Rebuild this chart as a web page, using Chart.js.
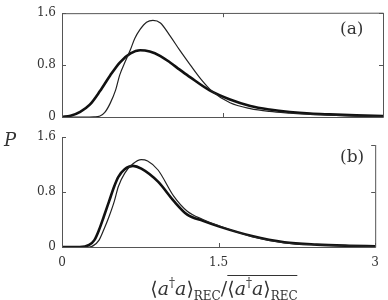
<!DOCTYPE html>
<html>
<head>
<meta charset="utf-8">
<script src="https://cdn.jsdelivr.net/npm/chart.js@4.4.0/dist/chart.umd.min.js"></script>
<style>
  body { margin: 0; background: #fff; overflow: hidden; }
  #wrap { position: relative; width: 388px; height: 300px; font-family: "DejaVu Serif", serif; color: #333; }
  canvas { position: absolute; left: 0; top: 0; }
  .lbl { position: absolute; white-space: nowrap; line-height: 1; }
  #xlabel { left: 224px; top: 275px; transform: translateX(-50%); font-size: 19px; }
  #xlabel sub { font-size: 12px; vertical-align: -5px; }
  #xlabel sup { font-size: 12px; vertical-align: 8px; }
  .ov { display: inline-block; border-top: 1px solid #333; padding-top: 1px; line-height: 1; }
  #plab { left: 4px; top: 131px; font-size: 18px; font-style: italic; }
  #la { left: 340px; top: 20px; font-size: 17px; }
  #lb { left: 340px; top: 148px; font-size: 17px; }
</style>
</head>
<body>
<div id="wrap">
  <canvas id="topChart" width="388" height="300"></canvas>
  <canvas id="bottomChart" width="388" height="300"></canvas>
  <div class="lbl" id="plab">P</div>
  <div class="lbl" id="la">(a)</div>
  <div class="lbl" id="lb">(b)</div>
  <div class="lbl" id="xlabel">⟨<i>a</i><sup>†</sup><i>a</i>⟩<sub>REC</sub>/<span class="ov">⟨<i>a</i><sup>†</sup><i>a</i>⟩<sub>REC</sub></span></div>
</div>
<script>
// tick values
const xTicks = [0, 1.5, 3];
const yTicks = [0, 0.8, 1.6];

// panel (a)
const xTopThick = [0, 0.08, 0.17, 0.26, 0.355, 0.45, 0.54, 0.64, 0.73, 0.82, 0.92, 1.01, 1.10, 1.20, 1.38, 1.57, 1.76, 1.94, 2.13, 2.32, 2.5, 2.75, 3];
const pTopThick = [0, 0.02, 0.08, 0.19, 0.40, 0.64, 0.84, 0.98, 1.03, 1.01, 0.94, 0.84, 0.73, 0.61, 0.41, 0.27, 0.17, 0.115, 0.077, 0.053, 0.04, 0.025, 0.015];
const xTopThin = [0, 0.2, 0.30, 0.355, 0.40, 0.45, 0.50, 0.54, 0.59, 0.64, 0.68, 0.73, 0.79, 0.85, 0.92, 1.01, 1.10, 1.20, 1.30, 1.40, 1.57, 1.76, 1.94, 2.13, 2.32, 2.5, 2.75, 3];
const pTopThin = [0, 0, 0.003, 0.015, 0.07, 0.21, 0.41, 0.65, 0.85, 1.04, 1.21, 1.35, 1.46, 1.49, 1.45, 1.25, 1.03, 0.80, 0.58, 0.40, 0.22, 0.13, 0.086, 0.06, 0.04, 0.028, 0.015, 0.008];

// panel (b)
const xBotThick = [0, 0.17, 0.26, 0.31, 0.355, 0.40, 0.45, 0.50, 0.54, 0.60, 0.68, 0.76, 0.92, 1.07, 1.20, 1.35, 1.5, 1.82, 2.13, 2.44, 2.75, 3];
const pBotThick = [0, 0, 0.03, 0.10, 0.25, 0.44, 0.66, 0.88, 1.02, 1.13, 1.18, 1.14, 0.95, 0.67, 0.47, 0.38, 0.30, 0.16, 0.07, 0.035, 0.018, 0.01];
const xBotThin = [0, 0.26, 0.30, 0.355, 0.40, 0.45, 0.50, 0.54, 0.60, 0.68, 0.76, 0.82, 0.92, 1.07, 1.20, 1.35, 1.5, 1.82, 2.13, 2.44, 2.75, 3];
const pBotThin = [0, 0, 0.02, 0.10, 0.25, 0.44, 0.66, 0.88, 1.07, 1.21, 1.27, 1.25, 1.12, 0.74, 0.52, 0.40, 0.31, 0.15, 0.06, 0.03, 0.015, 0.008];

function pts(xs, ys) {
  return xs.map((x, i) => ({ x: x, y: ys[i] }));
}

// draws the frame and inward tick marks
const framePlugin = {
  id: "frame",
  afterDraw(chart, args, opts) {
    const ctx = chart.ctx;
    const a = chart.chartArea;
    const xs = chart.scales.x, ys = chart.scales.y;
    const rightTop = opts.box ? a.top : a.top + 8;
    ctx.save();
    ctx.strokeStyle = "#555";
    ctx.lineWidth = 1;
    ctx.beginPath();
    ctx.moveTo(a.left + 0.5, a.top);
    ctx.lineTo(a.left + 0.5, a.bottom + 0.5);
    ctx.lineTo(a.right + 0.5, a.bottom + 0.5);
    ctx.moveTo(a.right + 0.5, a.bottom + 0.5);
    ctx.lineTo(a.right + 0.5, rightTop);
    if (opts.box) {
      ctx.lineTo(a.left + 0.5, a.top + 0.5);
    }
    xTicks.forEach(v => {
      const px = Math.round(xs.getPixelForValue(v)) + 0.5;
      ctx.moveTo(px, a.bottom);
      ctx.lineTo(px, a.bottom - 4);
      if (opts.box) {
        ctx.moveTo(px, a.top);
        ctx.lineTo(px, a.top + 4);
      }
    });
    yTicks.forEach(v => {
      const py = Math.round(ys.getPixelForValue(v)) + 0.5;
      ctx.moveTo(a.left, py);
      ctx.lineTo(a.left + 4, py);
      if (py >= rightTop) {
        ctx.moveTo(a.right, py);
        ctx.lineTo(a.right - 4, py);
      }
    });
    if (!opts.box) {
      ctx.moveTo(a.right, rightTop + 0.5);
      ctx.lineTo(a.right - 4, rightTop + 0.5);
    }
    ctx.stroke();
    ctx.restore();
  }
};

function makeChart(id, thickPts, thinPts, padTop, xHeight, showX, box) {
  const tickFont = { family: "'DejaVu Serif', serif", size: 12 };
  return new Chart(document.getElementById(id).getContext("2d"), {
    type: "line",
    data: {
      datasets: [
        { data: thinPts, borderColor: "#222", borderWidth: 1.2, pointRadius: 0, cubicInterpolationMode: "monotone" },
        { data: thickPts, borderColor: "#111", borderWidth: 2.6, pointRadius: 0, cubicInterpolationMode: "monotone" }
      ]
    },
    options: {
      responsive: false,
      animation: false,
      devicePixelRatio: 1,
      layout: { padding: { top: padTop, right: 5, left: 0, bottom: 0 } },
      plugins: { legend: { display: false }, tooltip: { enabled: false }, frame: { box: box } },
      scales: {
        x: {
          type: "linear", min: 0, max: 3,
          afterBuildTicks: s => { s.ticks = xTicks.map(v => ({ value: v })); },
          afterFit: s => { s.height = xHeight; },
          grid: { display: false, drawTicks: false },
          border: { display: false },
          ticks: { display: showX, font: tickFont, color: "#333", padding: 9, maxRotation: 0, callback: v => String(v) }
        },
        y: {
          type: "linear", min: 0, max: 1.6,
          afterBuildTicks: s => { s.ticks = yTicks.map(v => ({ value: v })); },
          afterFit: s => { s.width = 62; },
          grid: { display: false, drawTicks: false },
          border: { display: false },
          ticks: { font: tickFont, color: "#333", padding: 6, callback: v => String(v) }
        }
      }
    },
    plugins: [framePlugin]
  });
}

makeChart("topChart", pts(xTopThick, pTopThick), pts(xTopThin, pTopThin), 5, 183, false, true);
makeChart("bottomChart", pts(xBotThick, pBotThick), pts(xBotThin, pBotThin), 137, 53, true, false);
</script>
</body>
</html>
